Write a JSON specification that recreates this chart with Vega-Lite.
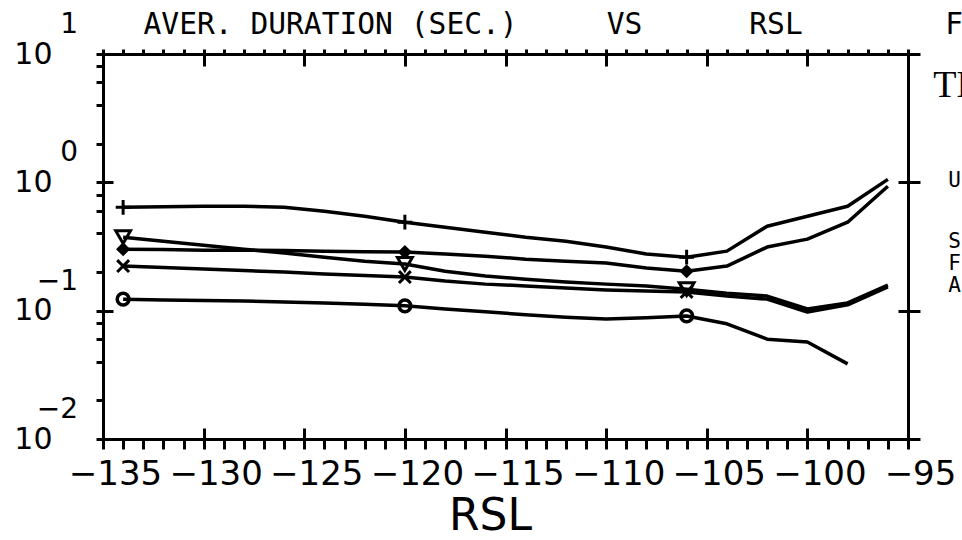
{
  "$schema": "https://vega.github.io/schema/vega-lite/v6.json",
  "width": 805,
  "height": 385,
  "autosize": {"type": "none"},
  "padding": {"left": 103, "top": 54, "right": 54, "bottom": 101},
  "background": "white",
  "config": {
    "view": {"stroke": null},
    "axis": {"domainColor": "black", "tickColor": "black", "labelColor": "black", "grid": false, "domainWidth": 3, "tickWidth": 3, "labelOverlap": false, "labelFlush": false, "labelBound": false}
  },
  "datasets": {
    "curves": [
      {"series": "P", "x": -134, "v": 0.639}, {"series": "P", "x": -132, "v": 0.645}, {"series": "P", "x": -130, "v": 0.651}, {"series": "P", "x": -128, "v": 0.651}, {"series": "P", "x": -126, "v": 0.639}, {"series": "P", "x": -124, "v": 0.595}, {"series": "P", "x": -122, "v": 0.544}, {"series": "P", "x": -120, "v": 0.489}, {"series": "P", "x": -118, "v": 0.447}, {"series": "P", "x": -116, "v": 0.409}, {"series": "P", "x": -114, "v": 0.374}, {"series": "P", "x": -112, "v": 0.348}, {"series": "P", "x": -110, "v": 0.313}, {"series": "P", "x": -108, "v": 0.276}, {"series": "P", "x": -106, "v": 0.261}, {"series": "P", "x": -104, "v": 0.291}, {"series": "P", "x": -102, "v": 0.455}, {"series": "P", "x": -100, "v": 0.544}, {"series": "P", "x": -98, "v": 0.651}, {"series": "P", "x": -96, "v": 1.055},
      {"series": "D", "x": -134, "v": 0.3015}, {"series": "D", "x": -132, "v": 0.299}, {"series": "D", "x": -130, "v": 0.296}, {"series": "D", "x": -128, "v": 0.296}, {"series": "D", "x": -126, "v": 0.294}, {"series": "D", "x": -124, "v": 0.291}, {"series": "D", "x": -122, "v": 0.288}, {"series": "D", "x": -120, "v": 0.286}, {"series": "D", "x": -118, "v": 0.276}, {"series": "D", "x": -116, "v": 0.266}, {"series": "D", "x": -114, "v": 0.252}, {"series": "D", "x": -112, "v": 0.243}, {"series": "D", "x": -110, "v": 0.235}, {"series": "D", "x": -108, "v": 0.215}, {"series": "D", "x": -106, "v": 0.203}, {"series": "D", "x": -104, "v": 0.2225}, {"series": "D", "x": -102, "v": 0.313}, {"series": "D", "x": -100, "v": 0.361}, {"series": "D", "x": -98, "v": 0.489}, {"series": "D", "x": -96, "v": 0.931},
      {"series": "T", "x": -134, "v": 0.374}, {"series": "T", "x": -132, "v": 0.348}, {"series": "T", "x": -130, "v": 0.324}, {"series": "T", "x": -128, "v": 0.3015}, {"series": "T", "x": -126, "v": 0.281}, {"series": "T", "x": -124, "v": 0.261}, {"series": "T", "x": -122, "v": 0.243}, {"series": "T", "x": -120, "v": 0.231}, {"series": "T", "x": -118, "v": 0.203}, {"series": "T", "x": -116, "v": 0.186}, {"series": "T", "x": -114, "v": 0.176}, {"series": "T", "x": -112, "v": 0.167}, {"series": "T", "x": -110, "v": 0.161}, {"series": "T", "x": -108, "v": 0.156}, {"series": "T", "x": -106, "v": 0.147}, {"series": "T", "x": -104, "v": 0.137}, {"series": "T", "x": -102, "v": 0.13}, {"series": "T", "x": -100, "v": 0.103}, {"series": "T", "x": -98, "v": 0.115}, {"series": "T", "x": -96, "v": 0.158},
      {"series": "X", "x": -134, "v": 0.2225}, {"series": "X", "x": -132, "v": 0.2166}, {"series": "X", "x": -130, "v": 0.2109}, {"series": "X", "x": -128, "v": 0.2053}, {"series": "X", "x": -126, "v": 0.1998}, {"series": "X", "x": -124, "v": 0.1928}, {"series": "X", "x": -122, "v": 0.1877}, {"series": "X", "x": -120, "v": 0.1827}, {"series": "X", "x": -118, "v": 0.17}, {"series": "X", "x": -116, "v": 0.161}, {"series": "X", "x": -114, "v": 0.156}, {"series": "X", "x": -112, "v": 0.15}, {"series": "X", "x": -110, "v": 0.145}, {"series": "X", "x": -108, "v": 0.142}, {"series": "X", "x": -106, "v": 0.14}, {"series": "X", "x": -104, "v": 0.13}, {"series": "X", "x": -102, "v": 0.123}, {"series": "X", "x": -100, "v": 0.0977}, {"series": "X", "x": -98, "v": 0.111}, {"series": "X", "x": -96, "v": 0.153},
      {"series": "C", "x": -134, "v": 0.123}, {"series": "C", "x": -132, "v": 0.121}, {"series": "C", "x": -130, "v": 0.12}, {"series": "C", "x": -128, "v": 0.119}, {"series": "C", "x": -126, "v": 0.117}, {"series": "C", "x": -124, "v": 0.115}, {"series": "C", "x": -122, "v": 0.112}, {"series": "C", "x": -120, "v": 0.109}, {"series": "C", "x": -118, "v": 0.103}, {"series": "C", "x": -116, "v": 0.098}, {"series": "C", "x": -114, "v": 0.093}, {"series": "C", "x": -112, "v": 0.089}, {"series": "C", "x": -110, "v": 0.086}, {"series": "C", "x": -108, "v": 0.088}, {"series": "C", "x": -106, "v": 0.091}, {"series": "C", "x": -104, "v": 0.079}, {"series": "C", "x": -102, "v": 0.06}, {"series": "C", "x": -100, "v": 0.057}, {"series": "C", "x": -98, "v": 0.0385}
    ],
    "expo": [
      {"v": 10, "e": "1"}, {"v": 1, "e": "0"}, {"v": 0.1, "e": "\u22121"}, {"v": 0.01, "e": "\u22122"}
    ],
    "notes": [
      {"label": "TI", "x": -93.75, "v": 5.67},
      {"label": "U", "x": -93.0, "v": 1.018},
      {"label": "S", "x": -93.0, "v": 0.342},
      {"label": "F", "x": -93.0, "v": 0.2306},
      {"label": "A", "x": -93.0, "v": 0.1555}
    ]
  },
  "resolve": {"axis": {"x": "independent", "y": "independent"}},
  "layer": [
    {
      "data": {"name": "curves"},
      "mark": {"type": "line", "color": "black", "strokeWidth": 3.5, "strokeJoin": "round"},
      "encoding": {
        "x": {"field": "x", "type": "quantitative", "scale": {"domain": [-135, -95], "nice": false, "zero": false},
          "axis": {"orient": "bottom", "values": [-135,-134,-133,-132,-131,-130,-129,-128,-127,-126,-125,-124,-123,-122,-121,-120,-119,-118,-117,-116,-115,-114,-113,-112,-111,-110,-109,-108,-107,-106,-105,-104,-103,-102,-101,-100,-99,-98,-97,-96,-95],
            "labelExpr": "datum.value % 5 === 0 ? format(datum.value, 'd') : ''", "tickSize": 10, "labelFont": "DejaVu Sans", "labelFontSize": 34, "labelPadding": 8, "labelOffset": 12, "labelAngle": 0,
            "title": "RSL", "titleFont": "DejaVu Sans", "titleFontSize": 44, "titleFontWeight": "normal", "titleColor": "black", "titlePadding": 3, "titleX": 387}},
        "y": {"field": "v", "type": "quantitative", "scale": {"type": "log", "domain": [0.01, 10], "nice": false},
          "axis": {"orient": "left", "values": [0.01,0.02,0.04,0.06,0.08,0.1,0.2,0.4,0.6,0.8,1,2,4,6,8,10],
            "labelExpr": "indexof([0.01,0.1,1,10], datum.value) >= 0 ? '10' : ''", "tickSize": 7, "labelFont": "DejaVu Sans", "labelFontSize": 30, "labelPadding": 44, "labelBaseline": "middle", "title": null}},
        "detail": {"field": "series"}
      }
    },
    {
      "data": {"name": "curves"},
      "transform": [{"filter": "(datum.series === 'P' || datum.series === 'T' || datum.series === 'X') && (datum.x === -134 || datum.x === -120 || datum.x === -106)"}],
      "mark": {"type": "point", "color": "black", "filled": false, "strokeWidth": 3, "size": 220, "opacity": 1},
      "encoding": {
        "x": {"field": "x", "type": "quantitative", "scale": {"domain": [-135, -95], "nice": false, "zero": false},
          "axis": {"orient": "top", "values": [-135,-134,-133,-132,-131,-130,-129,-128,-127,-126,-125,-124,-123,-122,-121,-120,-119,-118,-117,-116,-115,-114,-113,-112,-111,-110,-109,-108,-107,-106,-105,-104,-103,-102,-101,-100,-99,-98,-97,-96,-95],
            "labels": false, "tickSize": 5,
            "title": "AVER. DURATION (SEC.)\u00a0\u00a0\u00a0\u00a0\u00a0VS\u00a0\u00a0\u00a0\u00a0\u00a0\u00a0RSL\u00a0\u00a0\u00a0\u00a0\u00a0\u00a0\u00a0\u00a0F",
            "titleFont": "DejaVu Sans Mono", "titleFontSize": 29.6, "titleFontWeight": "normal", "titleColor": "black",
            "titleAlign": "left", "titleBaseline": "alphabetic", "titleAngle": 0, "titleX": 40, "titleY": -21}},
        "y": {"field": "v", "type": "quantitative", "scale": {"type": "log", "domain": [0.01, 10], "nice": false},
          "axis": {"orient": "right", "values": [0.01, 0.1, 1, 10], "labels": false, "tickSize": 12, "title": null}},
        "shape": {"field": "series", "type": "nominal", "scale": {"domain": ["P", "T", "X"], "range": ["M-1,0H1M0,-1V1", "triangle-down", "M-0.8,-0.8L0.8,0.8M-0.8,0.8L0.8,-0.8"]}, "legend": null}
      }
    },
    {
      "data": {"name": "curves"},
      "transform": [{"filter": "datum.series === 'D' && (datum.x === -134 || datum.x === -120 || datum.x === -106)"}],
      "mark": {"type": "point", "shape": "diamond", "color": "black", "filled": true, "size": 200, "opacity": 1},
      "encoding": {
        "x": {"field": "x", "type": "quantitative", "scale": {"domain": [-135, -95], "nice": false, "zero": false},
          "axis": {"orient": "bottom", "values": [-135, -130, -125, -120, -115, -110, -105, -100, -95], "labels": false, "domain": false, "tickSize": -11, "title": null}},
        "y": {"field": "v", "type": "quantitative", "scale": {"type": "log", "domain": [0.01, 10], "nice": false},
          "axis": {"orient": "left", "values": [0.01, 0.1, 1, 10], "labels": false, "domain": false, "tickSize": -10, "title": null}}
      }
    },
    {
      "data": {"name": "curves"},
      "transform": [{"filter": "datum.series === 'C' && (datum.x === -134 || datum.x === -120 || datum.x === -106)"}],
      "mark": {"type": "point", "shape": "circle", "color": "black", "filled": false, "strokeWidth": 3.5, "size": 140, "opacity": 1},
      "encoding": {
        "x": {"field": "x", "type": "quantitative", "scale": {"domain": [-135, -95], "nice": false, "zero": false},
          "axis": {"orient": "top", "values": [-135, -130, -125, -120, -115, -110, -105, -100, -95], "labels": false, "domain": false, "tickSize": -12, "title": null}},
        "y": {"field": "v", "type": "quantitative", "scale": {"type": "log", "domain": [0.01, 10], "nice": false},
          "axis": {"orient": "right", "values": [0.01, 0.1, 1, 10], "labels": false, "domain": false, "tickSize": -10, "title": null}}
      }
    },
    {
      "data": {"name": "expo"},
      "mark": {"type": "text", "align": "right", "baseline": "middle", "dx": -25, "dy": -29, "font": "DejaVu Sans", "fontSize": 28, "color": "black"},
      "encoding": {
        "x": {"datum": -135, "type": "quantitative", "scale": {"domain": [-135, -95], "nice": false, "zero": false}, "axis": null},
        "y": {"field": "v", "type": "quantitative", "scale": {"type": "log", "domain": [0.01, 10], "nice": false}, "axis": null},
        "text": {"field": "e"}
      }
    },
    {
      "data": {"name": "notes"},
      "transform": [{"filter": "datum.label === 'TI'"}],
      "mark": {"type": "text", "align": "left", "baseline": "middle", "font": "Liberation Serif", "fontSize": 38, "color": "black"},
      "encoding": {
        "x": {"field": "x", "type": "quantitative", "scale": {"domain": [-135, -95], "nice": false, "zero": false}, "axis": null},
        "y": {"field": "v", "type": "quantitative", "scale": {"type": "log", "domain": [0.01, 10], "nice": false}, "axis": null},
        "text": {"field": "label"}
      }
    },
    {
      "data": {"name": "notes"},
      "transform": [{"filter": "datum.label !== 'TI'"}],
      "mark": {"type": "text", "align": "left", "baseline": "middle", "font": "DejaVu Sans Mono", "fontSize": 21, "color": "black"},
      "encoding": {
        "x": {"field": "x", "type": "quantitative", "scale": {"domain": [-135, -95], "nice": false, "zero": false}, "axis": null},
        "y": {"field": "v", "type": "quantitative", "scale": {"type": "log", "domain": [0.01, 10], "nice": false}, "axis": null},
        "text": {"field": "label"}
      }
    }
  ]
}
